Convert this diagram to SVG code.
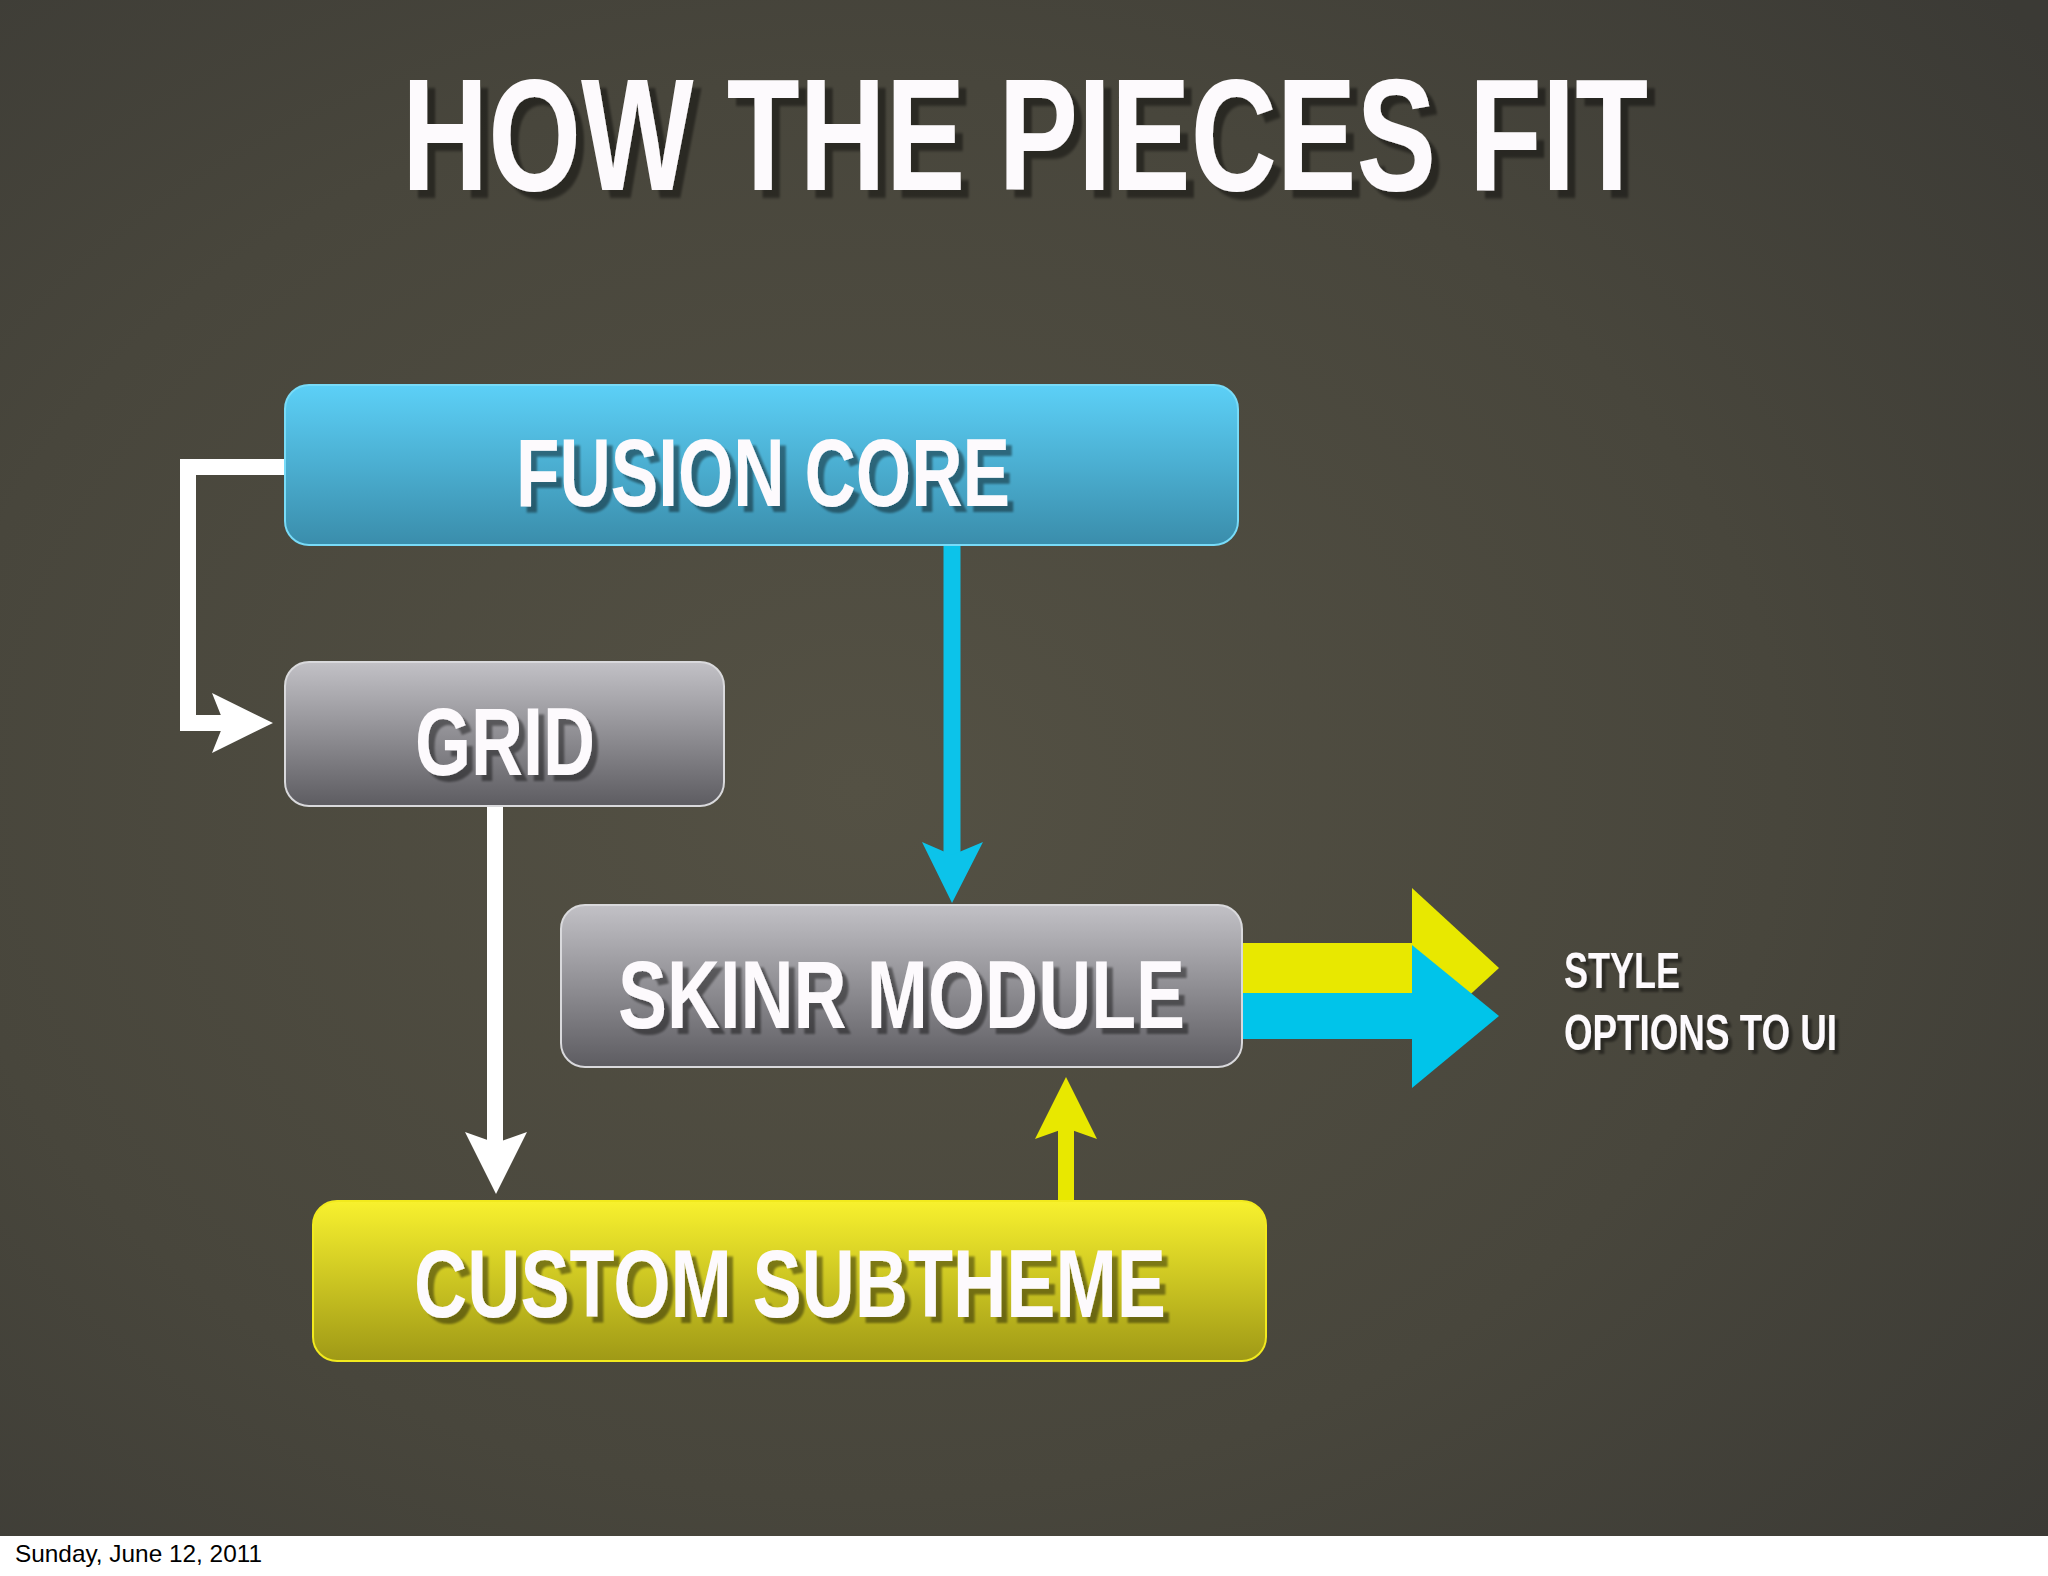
<svg xmlns="http://www.w3.org/2000/svg" width="2048" height="1576" viewBox="0 0 2048 1576">
  <defs>
    <radialGradient id="bg" cx="0.42" cy="0.5" r="0.75">
      <stop offset="0" stop-color="#545144"/>
      <stop offset="0.6" stop-color="#48463c"/>
      <stop offset="1" stop-color="#3b3a35"/>
    </radialGradient>
    <linearGradient id="gBlue" x1="0" y1="0" x2="0" y2="1">
      <stop offset="0" stop-color="#5cd0f7"/>
      <stop offset="1" stop-color="#3a8dab"/>
    </linearGradient>
    <linearGradient id="gGray" x1="0" y1="0" x2="0" y2="1">
      <stop offset="0" stop-color="#c2c1c6"/>
      <stop offset="1" stop-color="#5d5c61"/>
    </linearGradient>
    <linearGradient id="gYellow" x1="0" y1="0" x2="0" y2="1">
      <stop offset="0" stop-color="#f8f12e"/>
      <stop offset="1" stop-color="#9f9916"/>
    </linearGradient>
    <filter id="tshadow" x="-5%" y="-20%" width="115%" height="150%">
      <feDropShadow dx="6" dy="6" stdDeviation="1.2" flood-color="#000000" flood-opacity="0.42"/>
    </filter>
    <filter id="tshadowBig" x="-5%" y="-20%" width="115%" height="150%">
      <feDropShadow dx="8" dy="6" stdDeviation="1.2" flood-color="#000000" flood-opacity="0.42"/>
    </filter>
    <filter id="tshadowSm" x="-5%" y="-20%" width="115%" height="150%">
      <feDropShadow dx="4" dy="4" stdDeviation="1" flood-color="#000000" flood-opacity="0.42"/>
    </filter>
    <style>
      .lbl { font-family: "Liberation Sans", Arial, sans-serif; font-weight: bold; fill: #fdfafd; }
      .box { stroke-width: 2; }
      .wline { stroke: #ffffff; stroke-width: 16; fill: none; }
      .bline { stroke: #0cc3ea; stroke-width: 17; fill: none; }
      .yline { stroke: #e8e800; stroke-width: 16; fill: none; }
    </style>
  </defs>

  <rect x="0" y="0" width="2048" height="1576" fill="url(#bg)"/>
  <rect x="0" y="1536" width="2048" height="40" fill="#ffffff"/>

  <g id="title">
    <text class="lbl" x="0" y="0" font-size="120" transform="translate(402,190) scale(1,1.333)" textLength="1246" lengthAdjust="spacingAndGlyphs" filter="url(#tshadowBig)">HOW THE PIECES FIT</text>
  </g>

  <g id="connectors">
    <!-- Fusion core -> Grid (elbow) -->
    <polyline class="wline" points="286,467 188,467 188,723 226,723"/>
    <polygon fill="#ffffff" points="212,693 273,723 212,753 224,723"/>
    <!-- Fusion core -> Skinr -->
    <line class="bline" x1="952" y1="545" x2="952" y2="858"/>
    <polygon fill="#0cc3ea" points="922,842 952,903 983,842 952,855"/>
    <!-- Grid -> Custom subtheme -->
    <line class="wline" x1="495" y1="805" x2="495" y2="1146"/>
    <polygon fill="#ffffff" points="465,1132 496,1194 527,1132 496,1143"/>
    <!-- Custom subtheme -> Skinr -->
    <line class="yline" x1="1066" y1="1202" x2="1066" y2="1126"/>
    <polygon fill="#e8e800" points="1035,1139 1066,1077 1097,1139 1066,1128"/>
    <!-- Skinr -> Style options (double arrow) -->
    <rect x="1241" y="943" width="173" height="50" fill="#e8e800"/>
    <polygon fill="#e8e800" points="1412,888 1499,968 1412,1048"/>
    <rect x="1241" y="993" width="173" height="46" fill="#00c4ea"/>
    <polygon fill="#00c4ea" points="1412,945 1499,1016 1412,1088"/>
  </g>

  <g id="fusion-core">
    <rect class="box" x="285" y="385" width="953" height="160" rx="24" fill="url(#gBlue)" stroke="#78dbf8"/>
    <text class="lbl" x="516" y="506" font-size="96" textLength="494" lengthAdjust="spacingAndGlyphs" filter="url(#tshadow)">FUSION CORE</text>
  </g>

  <g id="grid">
    <rect class="box" x="285" y="662" width="439" height="144" rx="24" fill="url(#gGray)" stroke="#d9d9dc"/>
    <text class="lbl" x="415" y="775" font-size="96" textLength="180" lengthAdjust="spacingAndGlyphs" filter="url(#tshadow)">GRID</text>
  </g>

  <g id="skinr-module">
    <rect class="box" x="561" y="905" width="681" height="162" rx="24" fill="url(#gGray)" stroke="#d9d9dc"/>
    <text class="lbl" x="618" y="1028" font-size="96" textLength="567" lengthAdjust="spacingAndGlyphs" filter="url(#tshadow)">SKINR MODULE</text>
  </g>

  <g id="custom-subtheme">
    <rect class="box" x="313" y="1201" width="953" height="160" rx="24" fill="url(#gYellow)" stroke="#f2ea1e"/>
    <text class="lbl" x="414" y="1317" font-size="96" textLength="752" lengthAdjust="spacingAndGlyphs" filter="url(#tshadow)">CUSTOM SUBTHEME</text>
  </g>

  <g id="style-options">
    <text class="lbl" x="1564" y="988" font-size="50" textLength="116" lengthAdjust="spacingAndGlyphs" filter="url(#tshadowSm)">STYLE</text>
    <text class="lbl" x="1564" y="1050" font-size="50" textLength="273" lengthAdjust="spacingAndGlyphs" filter="url(#tshadowSm)">OPTIONS TO UI</text>
  </g>

  <text x="15" y="1562" font-family="'Liberation Sans', Arial, sans-serif" font-size="24" fill="#000000" textLength="247" lengthAdjust="spacingAndGlyphs">Sunday, June 12, 2011</text>
</svg>
